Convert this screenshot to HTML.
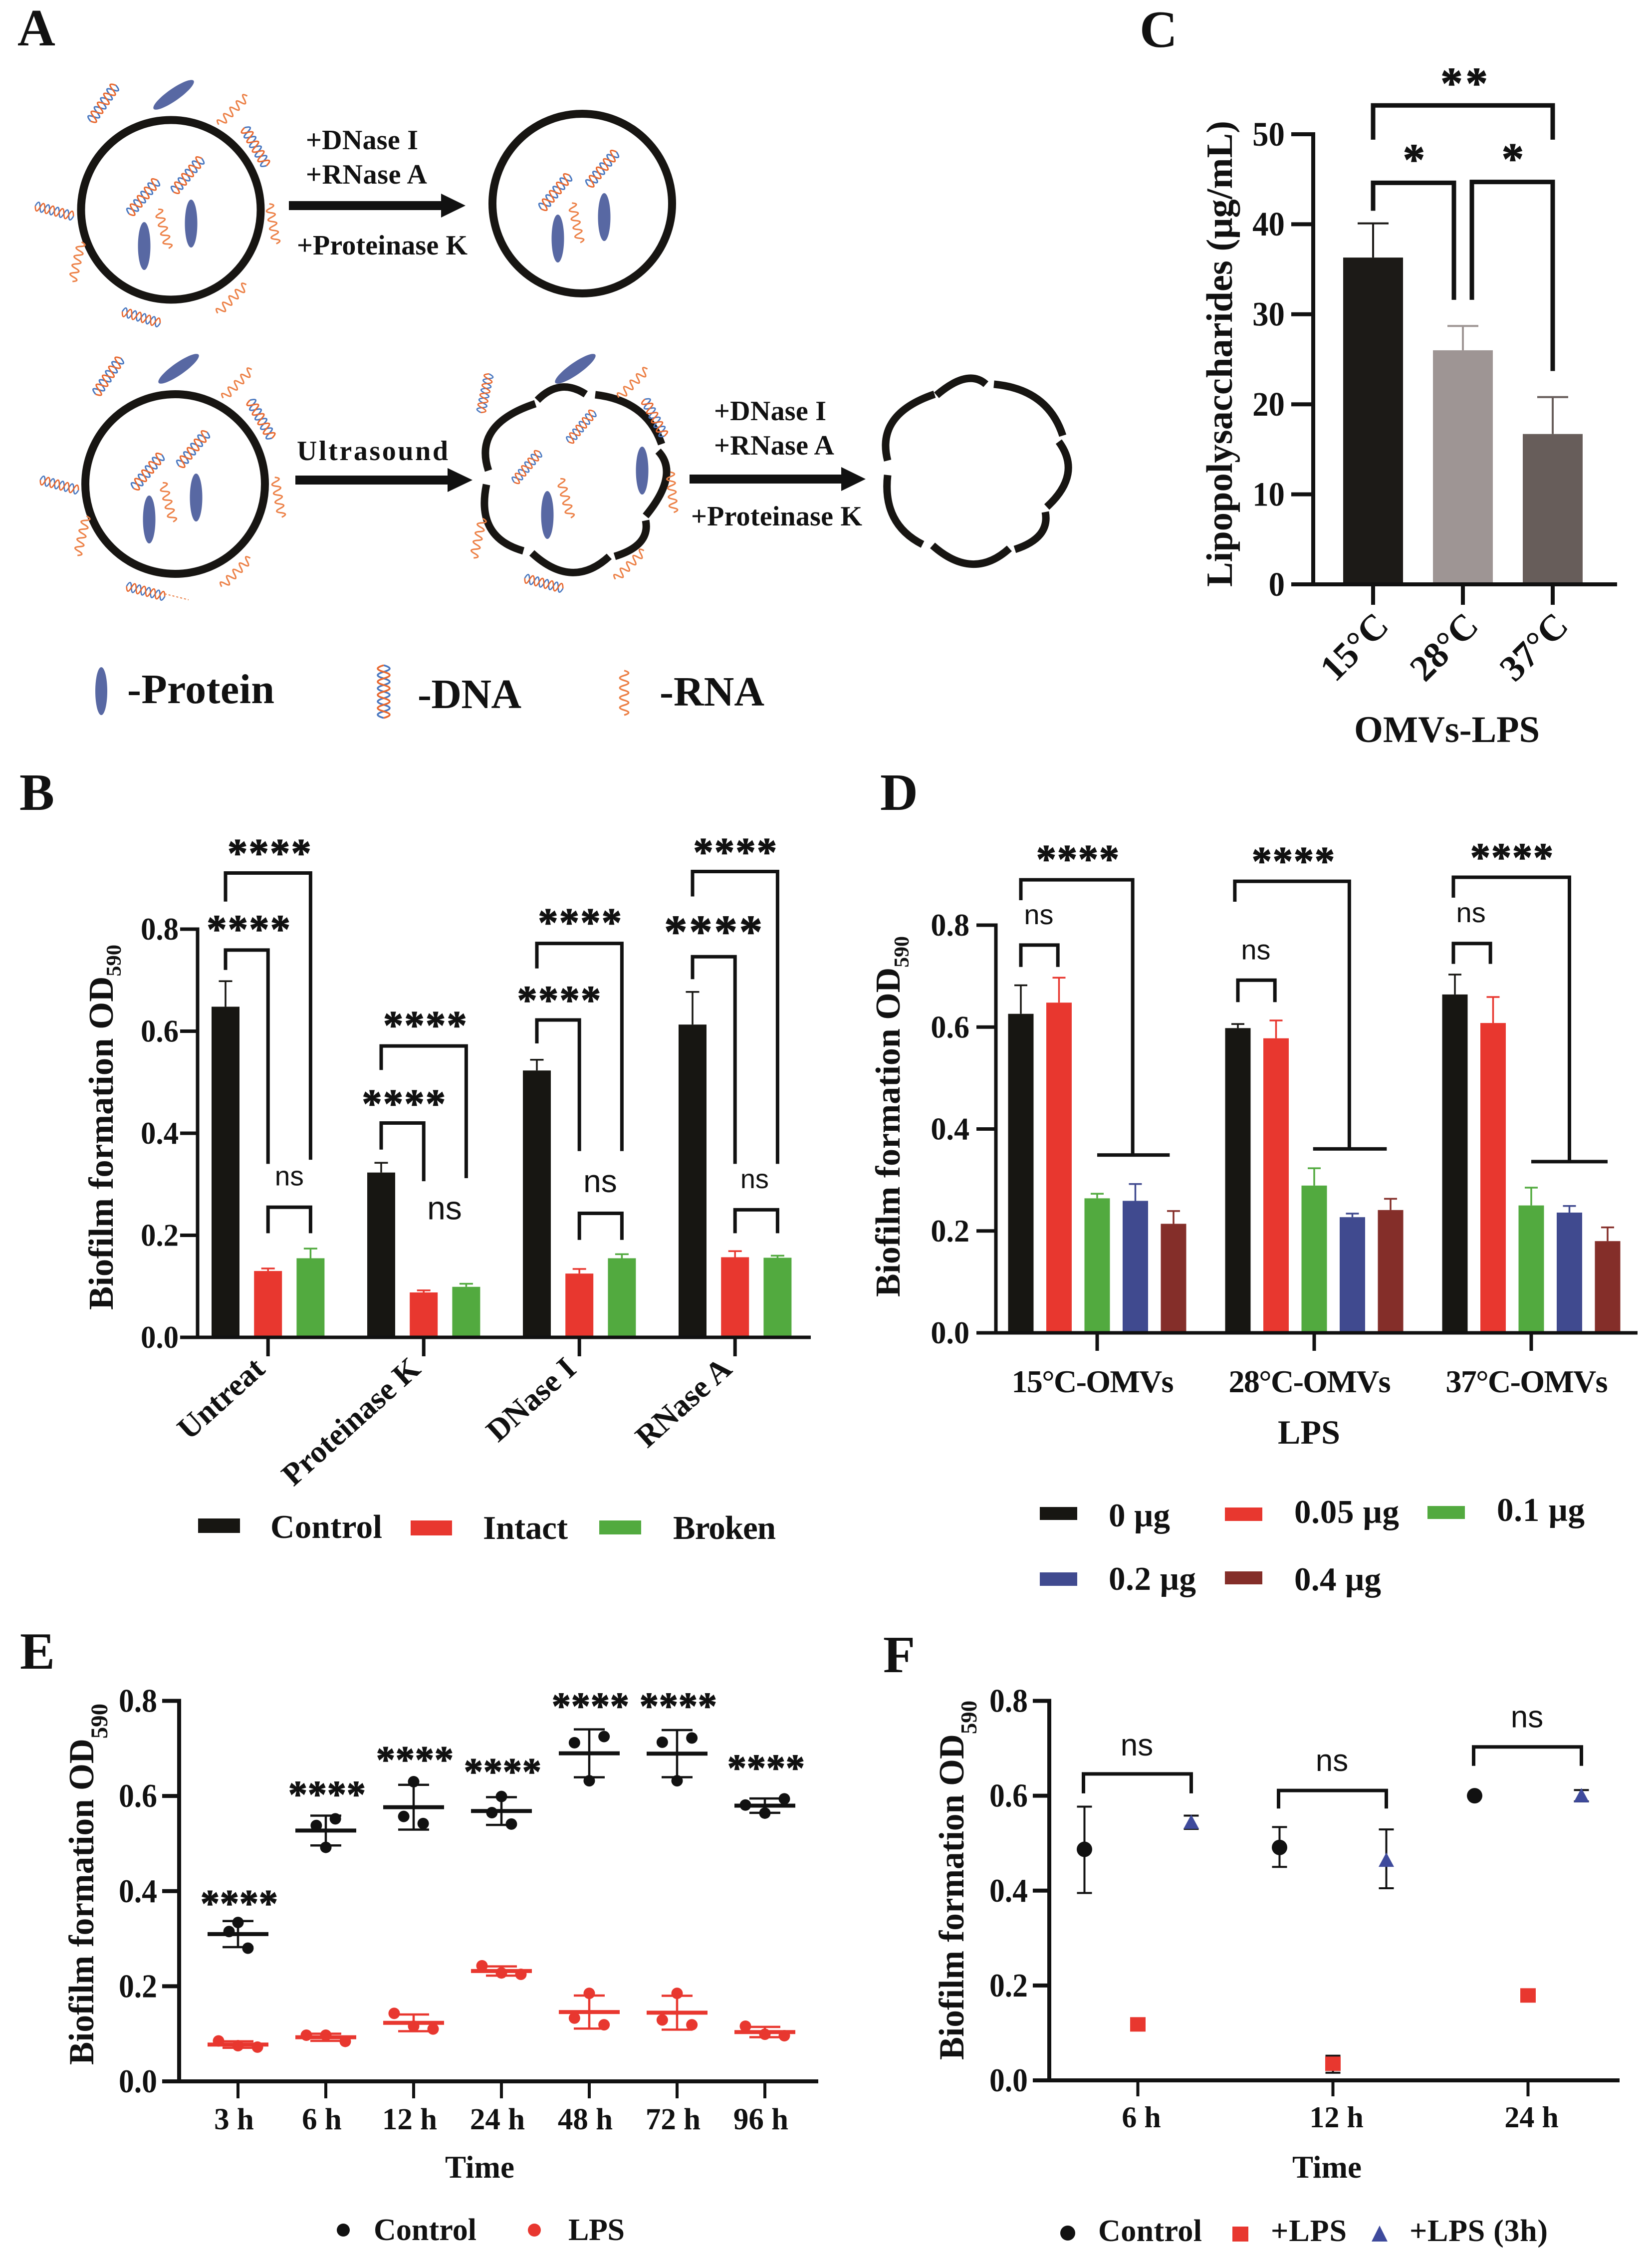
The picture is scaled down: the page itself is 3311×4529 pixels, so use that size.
<!DOCTYPE html>
<html lang="en">
<head>
<meta charset="utf-8">
<title>OMV biofilm figure</title>
<style>
html,body{margin:0;padding:0;background:#fff;}
svg{display:block;}
text{font-family:"Liberation Serif","Noto Serif CJK SC",serif;font-weight:700;fill:#111;}
.pl{font-size:105px;}
.a{font-size:56px;}
.al{font-size:84px;}
.leg{font-size:67px;}
.h{fill:none;stroke-width:3;}
</style>
</head>
<body>
<svg id="fig" xmlns="http://www.w3.org/2000/svg" width="3311" height="4529" viewBox="0 0 3311 4529">
<rect width="3311" height="4529" fill="#fff"/>
<defs>
<g id="dna"><path class="h" stroke="#4a78c0" d="M-44 0q5.5 -20 11 0t11 0t11 0t11 0t11 0t11 0t11 0t11 0"/><path class="h" stroke="#e8682f" d="M-44 0q5.5 20 11 0t11 0t11 0t11 0t11 0t11 0t11 0t11 0"/></g>
<path id="rna" class="h" stroke="#ec8046" d="M-42 0q4.5 -16 9 0t9 0t9 0t9 0t9 0t9 0t9 0t9 0t9 0"/>
</defs>

<g id="panel-a">
<text class="pl" x="35" y="91" textLength="74">A</text>
<g fill="none" stroke="#171512" stroke-width="16">
<circle cx="342.5" cy="420.5" r="180"/>
<circle cx="1167" cy="408" r="180"/>
<circle cx="351" cy="970" r="180"/>
<g stroke-width="15">
<path d="M1077 802Q1122 756 1174 790"/><path d="M1193 791Q1296 803 1326 890"/><path d="M1319 904Q1363 950 1294 1034"/><path d="M1294 1043Q1304 1093 1232 1115"/><path d="M1221 1115Q1147 1183 1066 1108"/><path d="M1049 1104Q953 1077 975 971"/><path d="M979 943Q948 850 1073 809"/>
</g>
<g stroke-width="15">
<path d="M1877 792Q1940 738 1976 770"/><path d="M1992 770Q2100 780 2130 873"/><path d="M2122 885Q2170 950 2098 1016"/><path d="M2095 1026Q2105 1078 2034 1101"/><path d="M2023 1099Q1950 1165 1869 1093"/><path d="M1849 1091Q1768 1050 1779 952"/><path d="M1779 923Q1755 830 1873 790"/>
</g>
</g>
<g fill="#5868a3">
<ellipse cx="289" cy="493" rx="12.5" ry="48"/>
<ellipse cx="383" cy="448" rx="12.5" ry="48"/>
<ellipse cx="348" cy="190" rx="12" ry="49" transform="rotate(55 348 190)"/>
<ellipse cx="1118" cy="478" rx="12.5" ry="48"/>
<ellipse cx="1211" cy="435" rx="12.5" ry="48"/>
<ellipse cx="299" cy="1041" rx="12.5" ry="48"/>
<ellipse cx="393" cy="997" rx="12.5" ry="48"/>
<ellipse cx="358" cy="739" rx="12" ry="49" transform="rotate(55 358 739)"/>
<ellipse cx="1097" cy="1032" rx="12.5" ry="48"/>
<ellipse cx="1287" cy="943" rx="12.5" ry="48"/>
<ellipse cx="1153" cy="739" rx="12" ry="49" transform="rotate(55 1153 739)"/>
<ellipse cx="203" cy="1385" rx="12" ry="48"/>
</g>
<use href="#dna" transform="translate(207 207) rotate(-55)"/>
<use href="#dna" transform="translate(512 294) rotate(60)"/>
<use href="#dna" transform="translate(287 395) rotate(-50)"/>
<use href="#dna" transform="translate(376 351) rotate(-50)"/>
<use href="#dna" transform="translate(109 423) rotate(15) scale(.9)"/>
<use href="#dna" transform="translate(283 636) rotate(17) scale(.9)"/>
<use href="#dna" transform="translate(1113 385) rotate(-50)"/>
<use href="#dna" transform="translate(1207 338) rotate(-50)"/>
<use href="#dna" transform="translate(217 754) rotate(-55)"/>
<use href="#dna" transform="translate(523 840) rotate(60)"/>
<use href="#dna" transform="translate(296 945) rotate(-50)"/>
<use href="#dna" transform="translate(387 900) rotate(-50)"/>
<use href="#dna" transform="translate(119 972) rotate(15) scale(.9)"/>
<use href="#dna" transform="translate(292 1185) rotate(15) scale(.9)"/>
<use href="#dna" transform="translate(972 788) rotate(-78) scale(.9)"/>
<use href="#dna" transform="translate(1165 855) rotate(-50) scale(.9)"/>
<use href="#dna" transform="translate(1056 936) rotate(-50) scale(.9)"/>
<use href="#dna" transform="translate(1312 837) rotate(62) scale(.95)"/>
<use href="#dna" transform="translate(1090 1169) rotate(15) scale(.9)"/>
<use href="#dna" transform="translate(769 1386) rotate(90) scale(1.2)"/>
<use href="#rna" transform="translate(468 220) rotate(-45)"/>
<use href="#rna" transform="translate(547 450) rotate(80)"/>
<use href="#rna" transform="translate(154 526) rotate(103)"/>
<use href="#rna" transform="translate(466 598) rotate(-45)"/>
<use href="#rna" transform="translate(328 460) rotate(75)"/>
<use href="#rna" transform="translate(1155 448) rotate(78)"/>
<use href="#rna" transform="translate(477 768) rotate(-45)"/>
<use href="#rna" transform="translate(558 998) rotate(80)"/>
<use href="#rna" transform="translate(164 1075) rotate(103)"/>
<use href="#rna" transform="translate(474 1146) rotate(-45)"/>
<use href="#rna" transform="translate(337 1008) rotate(75)"/>
<use href="#rna" transform="translate(1270 767) rotate(-45)"/>
<use href="#rna" transform="translate(1347 988) rotate(85)"/>
<use href="#rna" transform="translate(958 1080) rotate(103)"/>
<use href="#rna" transform="translate(1263 1131) rotate(-45)"/>
<use href="#rna" transform="translate(1134 1000) rotate(75)"/>
<use href="#rna" transform="translate(1251 1390) rotate(90) scale(1.1)"/>
<path d="M330 1190L378 1202" stroke="#e8793c" stroke-width="2" stroke-dasharray="4 4" fill="none"/>
<g fill="#111">
<path d="M579 403H884V388L933 412L884 436V421H579Z"/>
<path d="M592 953H897V938L947 962L897 986V971H592Z"/>
<path d="M1382 951H1686V936L1735 960L1686 984V969H1382Z"/>
</g>
<text class="a" x="613" y="299" textLength="225">+DNase I</text>
<text class="a" x="613" y="368" textLength="243">+RNase A</text>
<text class="a" x="595" y="510" textLength="342">+Proteinase K</text>
<text class="a" x="595" y="922" textLength="303">Ultrasound</text>
<text class="a" x="1431" y="842" textLength="225">+DNase I</text>
<text class="a" x="1431" y="911" textLength="241">+RNase A</text>
<text class="a" x="1385" y="1053" textLength="343">+Proteinase K</text>
<text class="al" x="255" y="1409" textLength="295">-Protein</text>
<text class="al" x="837" y="1419" textLength="208">-DNA</text>
<text class="al" x="1322" y="1414" textLength="210">-RNA</text>
</g>

<text class="pl" x="2284" y="94" textLength="68">C</text>
<text class="pl" x="39" y="1623" textLength="64">B</text>
<text class="pl" x="1764" y="1623" textLength="70">D</text>
<text class="pl" x="40" y="3344" textLength="62">E</text>
<text class="pl" x="1770" y="3351" textLength="60">F</text>

<text font-size="74" transform="translate(2469 1176) rotate(-90)" textLength="934" lengthAdjust="spacingAndGlyphs">Lipopolysaccharides (μg/mL)</text>
<text font-size="75" x="2714" y="1487" textLength="372" lengthAdjust="spacingAndGlyphs">OMVs-LPS</text>
<text font-size="70" transform="translate(226 2625) rotate(-90)" textLength="732" lengthAdjust="spacingAndGlyphs">Biofilm formation OD<tspan font-size="42" dy="16">590</tspan></text>
<text font-size="70" transform="translate(1803 2599) rotate(-90)" textLength="723" lengthAdjust="spacingAndGlyphs">Biofilm formation OD<tspan font-size="42" dy="18">590</tspan></text>
<text font-size="71" transform="translate(187 4138) rotate(-90)" textLength="724" lengthAdjust="spacingAndGlyphs">Biofilm formation OD<tspan font-size="48" dy="28">590</tspan></text>
<text font-size="71" transform="translate(1931 4128) rotate(-90)" textLength="720" lengthAdjust="spacingAndGlyphs">Biofilm formation OD<tspan font-size="46" dy="26">590</tspan></text>
<text font-size="68" x="2561" y="2893" textLength="125">LPS</text>
<text font-size="63" x="892" y="4364" textLength="139">Time</text>
<text font-size="63" x="2590" y="4364" textLength="139">Time</text>

<g>
<rect x="397" y="3043" width="84" height="29" fill="#171612"/>
<rect x="823" y="3047" width="83" height="30" fill="#e8372f"/>
<rect x="1201" y="3047" width="84" height="28" fill="#52aa3f"/>
<text class="leg" x="542" y="3082" textLength="224">Control</text>
<text class="leg" x="968" y="3084" textLength="170">Intact</text>
<text class="leg" x="1349" y="3084" textLength="206">Broken</text>
</g>
<g>
<rect x="2084" y="3020" width="75" height="26" fill="#171612"/>
<rect x="2455" y="3021" width="75" height="27" fill="#e8372f"/>
<rect x="2861" y="3018" width="75" height="26" fill="#52aa3f"/>
<rect x="2084" y="3151" width="75" height="27" fill="#404a8f"/>
<rect x="2455" y="3149" width="75" height="26" fill="#842e29"/>
<text class="leg" x="2222" y="3059" textLength="123">0 μg</text>
<text class="leg" x="2594" y="3052" textLength="210">0.05 μg</text>
<text class="leg" x="3000" y="3048" textLength="176">0.1 μg</text>
<text class="leg" x="2222" y="3186" textLength="175">0.2 μg</text>
<text class="leg" x="2594" y="3187" textLength="174">0.4 μg</text>
</g>
<g>
<circle cx="688" cy="4469" r="13" fill="#111"/>
<circle cx="1071" cy="4469" r="13" fill="#e8372f"/>
<text font-size="62" x="749" y="4489" textLength="206">Control</text>
<text font-size="62" x="1139" y="4489" textLength="113">LPS</text>
</g>
<g>
<circle cx="2140" cy="4475" r="15" fill="#111"/>
<rect x="2470" y="4462" width="32" height="30" fill="#e8372f"/>
<path d="M2765 4460L2781 4492H2749Z" fill="#3e4a9c"/>
<text font-size="62" x="2201" y="4491" textLength="208">Control</text>
<text font-size="62" x="2547" y="4491" textLength="152">+LPS</text>
<text font-size="62" x="2825" y="4491" textLength="277">+LPS (3h)</text>
</g>
</svg>

<script>
/* ---------- Panel C data ---------- */
const cCategories = ['15°C', '28°C', '37°C'];
const cValues = [36.3, 26.0, 16.7];
const cUpper = [40.1, 28.7, 20.8];
const cTickLabels = ['0', '10', '20', '30', '40', '50'];
const cColors = ['#1c1a17', '#9e9594', '#675d5a'];

/* ---------- Panel B data ---------- */
const bCategories = ['Untreat', 'Proteinase K', 'DNase I', 'RNase A'];
const bControl = [0.648, 0.323, 0.523, 0.613];
const bControlUpper = [0.698, 0.342, 0.544, 0.677];
const bIntact = [0.130, 0.088, 0.125, 0.157];
const bIntactUpper = [0.135, 0.092, 0.134, 0.169];
const bBroken = [0.155, 0.099, 0.155, 0.156];
const bBrokenUpper = [0.174, 0.105, 0.163, 0.160];
const bTickLabels = ['0.0', '0.2', '0.4', '0.6', '0.8'];

/* ---------- Panel D data ---------- */
const dCategories = ['15°C-OMVs', '28°C-OMVs', '37°C-OMVs'];
const d0ug = [0.626, 0.598, 0.664];
const d0ugUpper = [0.682, 0.606, 0.703];
const d005ug = [0.648, 0.578, 0.608];
const d005ugUpper = [0.697, 0.613, 0.659];
const d01ug = [0.264, 0.289, 0.250];
const d01ugUpper = [0.273, 0.323, 0.285];
const d02ug = [0.259, 0.227, 0.236];
const d02ugUpper = [0.292, 0.234, 0.249];
const d04ug = [0.214, 0.241, 0.180];
const d04ugUpper = [0.239, 0.263, 0.207];
const dTickLabels = ['0.0', '0.2', '0.4', '0.6', '0.8'];

/* ---------- Panel E data ---------- */
const eCategories = ['3 h', '6 h', '12 h', '24 h', '48 h', '72 h', '96 h'];
const eControl = [[0.315, 0.334, 0.280], [0.538, 0.552, 0.492], [0.557, 0.630, 0.542], [0.565, 0.599, 0.541], [0.712, 0.725, 0.632], [0.713, 0.722, 0.632], [0.581, 0.594, 0.564]];
const eLPS = [[0.085, 0.075, 0.072], [0.097, 0.097, 0.084], [0.143, 0.116, 0.110], [0.243, 0.228, 0.225], [0.185, 0.133, 0.119], [0.185, 0.129, 0.119], [0.116, 0.099, 0.096]];
const eControlJitter = [[-0.46, 0, 0.51], [-0.49, 0.49, 0], [-0.51, 0, 0.49], [-0.49, 0, 0.51], [-0.76, 0.76, 0], [-0.76, 0.76, 0], [-1, 1, 0]];
const eLPSJitter = [[-1, 0, 1], [-1, 0, 1], [-1, 0, 1], [-1, 0, 1], [0, -0.76, 0.76], [0, -0.76, 0.76], [-1, 0, 1]];
const eTickLabels = ['0.0', '0.2', '0.4', '0.6', '0.8'];

/* ---------- Panel F data ---------- */
const fCategories = ['6 h', '12 h', '24 h'];
const fControl = [0.487, 0.491, 0.600];
const fControlLow = [0.395, 0.450, 0.600];
const fControlHigh = [0.577, 0.534, 0.600];
const fLPS = [0.118, 0.035, 0.179];
const fLPSLow = [0.118, 0.016, 0.179];
const fLPSHigh = [0.118, 0.052, 0.179];
const fLPS3h = [0.544, 0.464, 0.600];
const fLPS3hLow = [0.530, 0.405, 0.588];
const fLPS3hHigh = [0.558, 0.529, 0.612];
const fTickLabels = ['0.0', '0.2', '0.4', '0.6', '0.8'];

/* ---------- Significance annotations (group, series index, value level) ---------- */
const bBrackets = [[0,0,2,0.910,0.854,0.348],[0,0,1,0.759,0.720,0.340],[0,1,2,0.255,0.204,0.204],[1,0,2,0.571,0.524,0.312],[1,0,1,0.420,0.368,0.306],[2,0,2,0.772,0.723,0.365],[2,0,1,0.622,0.576,0.365],[2,1,2,0.243,0.191,0.191],[3,0,2,0.913,0.864,0.340],[3,0,1,0.746,0.702,0.340],[3,1,2,0.250,0.204,0.204]];
const bStars = [[0,1.02,0.957,160],[0,0.53,0.808,160],[1,1.02,0.620,160],[1,0.52,0.466,160],[2,1.0,0.821,160],[2,0.51,0.669,160],[3,0.99,0.959,160],[3,0.47,0.805,187]];
const bNs = [[0,1.5,0.312,55],[1,1.49,0.248,66],[2,1.49,0.301,64],[3,1.46,0.306,54]];
const dBrackets = [[0,0,2.93,0.889,0.849,0.349],[0,0,0.97,0.761,0.718,0.718],[1,-0.08,2.92,0.886,0.846,0.361],[1,0,0.97,0.692,0.649,0.649],[2,-0.04,3,0.894,0.854,0.336],[2,-0.04,0.93,0.764,0.724,0.724]];
const dSpans = [[0,2,3.9,0.349],[1,1.97,3.9,0.361],[2,2,4,0.336]];
const dStars = [[0,1.48,0.938],[1,1.44,0.934],[2,1.48,0.941]];
const dNs = [[0,0.47,0.816],[1,0.47,0.747],[2,0.42,0.820]];
const eStarLevels = [0.383, 0.612, 0.685, 0.660, 0.798, 0.798, 0.668];
const fBracketLevels = [0.646, 0.611, 0.703];
const fBracketDrops = [0.605, 0.573, 0.663];
const fNsLevels = [0.702, 0.669, 0.761];
const cBrackets = [[0,2,53.2,49.4,49.4],[0,1,44.6,41.5,31.6],[1.1,2,44.7,31.6,23.7]];
const cStars = [['**',1.005,56.2,85],['*',0.455,47.7,0],['*',1.555,47.8,0]];

/* ---------- Primitives ---------- */
const svg = document.getElementById('fig');
const NS = 'http://www.w3.org/2000/svg';
function mk(tag, attrs, parent) {
  const el = document.createElementNS(NS, tag);
  for (const k in attrs) el.setAttribute(k, attrs[k]);
  parent.appendChild(el);
  return el;
}
function drawGroup(name) {
  const el = mk('g', {}, svg);
  
  
  return el;
}
function drawLine(p, name, x1, y1, x2, y2, color, w) {
  const el = mk('line', {x1, y1, x2, y2, stroke: color, 'stroke-width': w}, p);
  
  
  return el;
}
function drawRect(p, name, x, y, w, h, color) {
  const el = mk('rect', {x, y, width: w, height: h, fill: color}, p);
  
  
  return el;
}
function drawDot(p, name, cx, cy, r, color) {
  const el = mk('circle', {cx, cy, r, fill: color}, p);
  
  
  return el;
}
function drawTriangle(p, name, cx, cy, size, color) {
  const el = mk('path', {d: 'M' + cx + ' ' + (cy - size) + 'L' + (cx + size) + ' ' + (cy + size * 0.85) + 'H' + (cx - size) + 'Z', fill: color}, p);
  
  
  return el;
}
function drawPath(p, name, d, color, w) {
  const el = mk('path', {d, fill: 'none', stroke: color, 'stroke-width': w, 'stroke-linejoin': 'miter'}, p);
  
  
  return el;
}
function drawText(p, name, str, x, y, size, opts) {
  const o = opts || {};
  const el = mk('text', {x, y, 'font-size': size}, p);
  if (o.anchor) el.setAttribute('text-anchor', o.anchor);
  if (o.len) el.setAttribute('textLength', o.len);
  if (o.squeeze) el.setAttribute('lengthAdjust', 'spacingAndGlyphs');
  if (o.rotate) el.setAttribute('transform', 'rotate(' + o.rotate + ' ' + x + ' ' + y + ')');
  if (o.heavy) {
    el.setAttribute('stroke', '#111');
    el.setAttribute('stroke-width', o.heavy);
  }
  el.style.fontFamily = o.sans ? '"Liberation Sans", sans-serif' : '"Liberation Serif", serif';
  if (o.sans && !o.bold) el.style.fontWeight = '400';
  el.textContent = str;
  
  
  return el;
}
function drawStars(p, name, str, cx, cy, fs, span) {
  const n = str.length;
  const opts = {anchor: 'middle', heavy: 1.5};
  let sx = cx;
  if (n > 1) {
    const pitch = (span - 0.43 * fs) / (n - 1);
    opts.len = pitch * n;
    sx = cx + (pitch - 0.5 * fs) / 2;
  }
  return drawText(p, name, str, sx, cy + 0.44 * fs, fs, opts);
}
function drawNs(p, name, cx, cy, fs) {
  return drawText(p, name, 'ns', cx, cy + 0.26 * fs, fs, {anchor: 'middle', sans: true});
}
function scaleY(y0, yTop, max) {
  return v => y0 - v * (y0 - yTop) / max;
}
function yAxis(p, x, scale, labels, tickLen, sw, labelRight, fs, ratio) {
  const vals = labels.map(parseFloat);
  drawLine(p, 'y-axis-line', x, scale(vals[0]) + sw / 2, x, scale(vals[vals.length - 1]) - sw / 2, '#111', sw);
  labels.forEach(l => {
    const v = parseFloat(l);
    const widthEm = l.replace('.', '').length * 0.5 + (l.includes('.') ? 0.25 : 0);
    drawLine(p, 'y-tick', x - tickLen, scale(v), x, scale(v), '#111', sw);
    drawText(p, 'y-tick-label', l, labelRight, scale(v) + 0.33 * fs, fs, {anchor: 'end', len: widthEm * fs * ratio, squeeze: true});
  });
}
function xAxis(p, xStart, xEnd, y, sw) {
  drawLine(p, 'x-axis-line', xStart, y, xEnd, y, '#111', sw);
}
function drawErrorCap(p, name, x, yFrom, yTo, capW, color, w) {
  drawLine(p, name + '-stem', x, yFrom, x, yTo, color, w);
  drawLine(p, name + '-cap', x - capW / 2, yTo, x + capW / 2, yTo, color, w);
}
function bracketPath(x1, x2, y, yL, yR) {
  return 'M' + x1 + ' ' + yL + 'V' + y + 'H' + x2 + 'V' + yR;
}
function mean(a) {
  return a.reduce((s, v) => s + v, 0) / a.length;
}
function sd(a) {
  const m = mean(a);
  return Math.sqrt(a.reduce((s, v) => s + (v - m) * (v - m), 0) / (a.length - 1));
}

/* ---------- Panel C ---------- */
(function () {
  const g = drawGroup('panel-c-chart');
  const y = scaleY(1171, 269, 50);
  const x = i => 2752 + i * 180;
  cValues.forEach((v, i) => {
    drawErrorCap(g, 'error-bar-' + cCategories[i], x(i), y(v), y(cUpper[i]), 62, cColors[i], 4);
    drawRect(g, 'bar-' + cCategories[i], x(i) - 60, y(v), 120, y(0) - y(v), cColors[i]);
    drawLine(g, 'x-tick', x(i), y(0), x(i), y(0) + 41, '#111', 8);
    drawText(g, 'x-tick-label', cCategories[i], x(i) + 35, y(0) + 87, 74, {anchor: 'end', rotate: -45});
  });
  yAxis(g, 2632, y, cTickLabels, 44, 8, 2575, 69, 0.94);
  xAxis(g, 2588, 3241, y(0), 8);
  cBrackets.forEach(b => {
    drawPath(g, 'significance-bracket', bracketPath(x(b[0]), x(b[1]) - (b[1] === 1 ? 18 : 0), y(b[2]), y(b[3]), y(b[4])), '#111', 9);
  });
  cStars.forEach(s => {
    drawStars(g, 'significance-stars', s[0], x(s[1]), y(s[2]), 88, s[3]);
  });
})();

/* ---------- Panel B ---------- */
(function () {
  const g = drawGroup('panel-b-chart');
  const y = scaleY(2680, 1862, 0.8);
  const x = (c, s) => 452 + c * 312 + s * 85.2;
  const series = [[bControl, bControlUpper, '#171612', 'control'], [bIntact, bIntactUpper, '#e8372f', 'intact'], [bBroken, bBrokenUpper, '#52aa3f', 'broken']];
  series.forEach((s, si) => {
    s[0].forEach((v, c) => {
      drawErrorCap(g, 'error-bar-' + s[3], x(c, si), y(v), y(s[1][c]), 27, s[2], 3.5);
      drawRect(g, 'bar-' + s[3], x(c, si) - 28, y(v), 56, y(0) - y(v), s[2]);
    });
  });
  bCategories.forEach((name, c) => {
    drawLine(g, 'x-tick', x(c, 1), y(0), x(c, 1), y(0) + 38, '#111', 7);
    drawText(g, 'x-tick-label', name, x(c, 1) - 3, y(0) + 68, 63, {anchor: 'end', rotate: -42});
  });
  yAxis(g, 396, y, bTickLabels, 35, 7, 358, 64, 0.95);
  xAxis(g, 361, 1625, y(0), 7);
  bBrackets.forEach(b => {
    drawPath(g, 'significance-bracket', bracketPath(x(b[0], b[1]), x(b[0], b[2]), y(b[3]), y(b[4]), y(b[5])), '#111', 7);
  });
  bStars.forEach(s => {
    drawStars(g, 'significance-stars', '****', x(s[0], s[1]), y(s[2]), s[3] > 170 ? 92 : 80, s[3]);
  });
  bNs.forEach(n => {
    drawNs(g, 'ns-label', x(n[0], n[1]), y(n[2]), n[3]);
  });
})();

/* ---------- Panel D ---------- */
(function () {
  const g = drawGroup('panel-d-chart');
  const y = scaleY(2671, 1854, 0.8);
  const x = (c, s) => 2046 + c * 435 + s * 76.5;
  const series = [[d0ug, d0ugUpper, '#171612', '0ug'], [d005ug, d005ugUpper, '#e8372f', '005ug'], [d01ug, d01ugUpper, '#52aa3f', '01ug'], [d02ug, d02ugUpper, '#404a8f', '02ug'], [d04ug, d04ugUpper, '#842e29', '04ug']];
  series.forEach((s, si) => {
    s[0].forEach((v, c) => {
      drawErrorCap(g, 'error-bar-' + s[3], x(c, si), y(v), y(s[1][c]), 26, s[2], 3.5);
      drawRect(g, 'bar-' + s[3], x(c, si) - 25.5, y(v), 51, y(0) - y(v), s[2]);
    });
  });
  dCategories.forEach((name, c) => {
    drawLine(g, 'x-tick', x(c, 2), y(0), x(c, 2), y(0) + 36, '#111', 7);
    drawText(g, 'x-tick-label', name, x(c, 2) - 9, 2790, 64, {anchor: 'middle', len: 325});
  });
  yAxis(g, 1996, y, dTickLabels, 39, 7, 1943, 64, 0.97);
  xAxis(g, 1957, 3282, y(0), 7);
  dBrackets.forEach(b => {
    drawPath(g, 'significance-bracket', bracketPath(x(b[0], b[1]), x(b[0], b[2]), y(b[3]), y(b[4]), y(b[5])), '#111', 7);
  });
  dSpans.forEach(s => {
    drawLine(g, 'significance-span', x(s[0], s[1]), y(s[3]), x(s[0], s[2]), y(s[3]), '#111', 7);
  });
  dStars.forEach(s => {
    drawStars(g, 'significance-stars', '****', x(s[0], s[1]), y(s[2]), 80, 159);
  });
  dNs.forEach(n => {
    drawNs(g, 'ns-label', x(n[0], n[1]), y(n[2]), 56);
  });
})();

/* ---------- Panel E ---------- */
(function () {
  const g = drawGroup('panel-e-chart');
  const y = scaleY(4171, 3408.5, 0.8);
  const x = i => 477 + i * 176;
  const groups = [[eControl, eControlJitter, '#111', 'control'], [eLPS, eLPSJitter, '#e8372f', 'lps']];
  groups.forEach(grp => {
    grp[0].forEach((pts, i) => {
      const m = mean(pts);
      const s = sd(pts);
      pts.forEach((v, k) => {
        drawDot(g, 'point-' + grp[3], x(i) + grp[1][i][k] * 39, y(v), 11.5, grp[2]);
      });
      drawLine(g, 'mean-line-' + grp[3], x(i) - 61, y(m), x(i) + 61, y(m), grp[2], 8);
      drawLine(g, 'error-stem-' + grp[3], x(i), y(m - s), x(i), y(m + s), grp[2], 4.5);
      drawLine(g, 'error-cap-' + grp[3], x(i) - 31, y(m + s), x(i) + 31, y(m + s), grp[2], 4.5);
      drawLine(g, 'error-cap-' + grp[3], x(i) - 31, y(m - s), x(i) + 31, y(m - s), grp[2], 4.5);
    });
  });
  eCategories.forEach((name, i) => {
    drawLine(g, 'x-tick', x(i), y(0), x(i), y(0) + 34, '#111', 6);
    drawText(g, 'x-tick-label', name, x(i) - 8, 4267, 61, {anchor: 'middle'});
    drawStars(g, 'significance-stars', '****', x(i) + 2, y(eStarLevels[i]), 76, 149);
  });
  yAxis(g, 359, y, eTickLabels, 34, 8, 315, 67, 0.92);
  xAxis(g, 325, 1640, y(0), 8);
})();

/* ---------- Panel F ---------- */
(function () {
  const g = drawGroup('panel-f-chart');
  const y = scaleY(4169, 3408.5, 0.8);
  const x = (c, s) => 2280.5 + c * 391 + s * 107;
  function errs(values, low, high, s, label) {
    values.forEach((v, c) => {
      if (high[c] === low[c]) return;
      drawLine(g, 'error-stem-' + label, x(c, s), y(low[c]), x(c, s), y(high[c]), '#111', 4);
      drawLine(g, 'error-cap-' + label, x(c, s) - 15, y(high[c]), x(c, s) + 15, y(high[c]), '#111', 4);
      drawLine(g, 'error-cap-' + label, x(c, s) - 15, y(low[c]), x(c, s) + 15, y(low[c]), '#111', 4);
    });
  }
  errs(fControl, fControlLow, fControlHigh, -1, 'control');
  errs(fLPS, fLPSLow, fLPSHigh, 0, 'lps');
  errs(fLPS3h, fLPS3hLow, fLPS3hHigh, 1, 'lps-3h');
  fControl.forEach((v, c) => {
    drawDot(g, 'point-control', x(c, -1), y(v), 15.5, '#111');
  });
  fLPS.forEach((v, c) => {
    drawRect(g, 'point-lps', x(c, 0) - 15.5, y(v) - 14.5, 31, 29, '#e8372f');
  });
  fLPS3h.forEach((v, c) => {
    drawTriangle(g, 'point-lps-3h', x(c, 1), y(v), 15.5, '#3e4a9c');
  });
  fCategories.forEach((name, c) => {
    drawLine(g, 'x-tick', x(c, 0), y(0), x(c, 0), y(0) + 32, '#111', 6);
    drawText(g, 'x-tick-label', name, x(c, 0) + 7, 4263, 60, {anchor: 'middle'});
    drawPath(g, 'significance-bracket', bracketPath(x(c, -1) - 2, x(c, 1), y(fBracketLevels[c]), y(fBracketDrops[c]), y(fBracketDrops[c])), '#111', 7);
    drawNs(g, 'ns-label', x(c, 0) - 2, y(fNsLevels[c]), 62);
  });
  yAxis(g, 2103, y, fTickLabels, 33, 8, 2060, 67, 0.92);
  xAxis(g, 2070, 3246, y(0), 8);
})();
</script>
</body>
</html>
